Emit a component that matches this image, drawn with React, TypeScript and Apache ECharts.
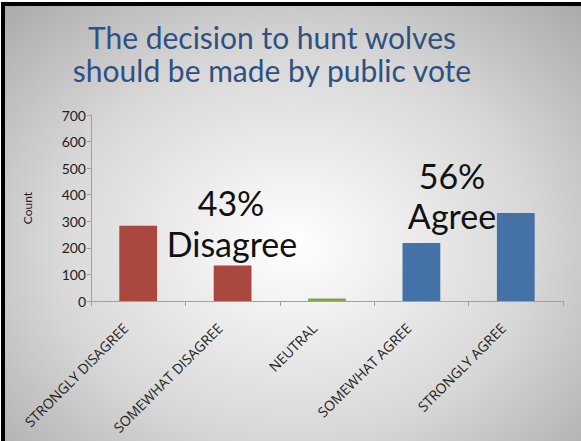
import React, { useEffect, useRef } from "react";
import * as echarts from "echarts";

const titleLines = ["The decision to hunt wolves", "should be made by public vote"];
const categories = ["STRONGLY DISAGREE", "SOMEWHAT DISAGREE", "NEUTRAL", "SOMEWHAT AGREE", "STRONGLY AGREE"];
const counts = [283, 134, 9, 218, 331];
const barColors = ["#A9483F", "#A9483F", "#86A349", "#4472A6", "#4472A6"];
const yTicks = [0, 100, 200, 300, 400, 500, 600, 700];
const annotations = [
  { pct: "43%", label: "Disagree" },
  { pct: "56%", label: "Agree" },
];

const FONT = "Lato, 'Open Sans', sans-serif";

export default function App() {
  const ref = useRef<HTMLDivElement>(null);
  useEffect(() => {
    if (!ref.current) return;
    const chart = echarts.init(ref.current, undefined, { renderer: "svg" });
    const annStyle = { fontFamily: FONT, fontSize: 34, fill: "#111", align: "center", verticalAlign: "middle" };
    chart.setOption({
      animation: false,
      backgroundColor: "transparent",
      title: {
        text: titleLines.join("\n"),
        left: 267,
        top: 15,
        textAlign: "center",
        textStyle: {
          fontFamily: FONT,
          fontSize: 30,
          fontWeight: "normal",
          color: "#2F5082",
          lineHeight: 33,
        },
      },
      grid: { left: 91, right: 18, top: 115, bottom: 140, containLabel: false },
      xAxis: {
        type: "category",
        data: categories,
        axisLine: { lineStyle: { color: "#A0A0A0", width: 1 } },
        axisTick: { show: true, length: 5, lineStyle: { color: "#A0A0A0" } },
        axisLabel: {
          rotate: 45,
          interval: 0,
          margin: 12,
          padding: [0, 18, 0, 0],
          fontFamily: "'Open Sans', sans-serif",
          fontSize: 14,
          color: "#222",
        },
      },
      yAxis: {
        type: "value",
        min: yTicks[0],
        max: yTicks[yTicks.length - 1],
        interval: 100,
        name: "Count",
        nameLocation: "middle",
        nameGap: 58,
        nameRotate: 90,
        nameTextStyle: { fontFamily: FONT, fontSize: 12, color: "#222" },
        axisLine: { show: true, lineStyle: { color: "#A0A0A0" } },
        axisTick: { show: true, length: 4, lineStyle: { color: "#A0A0A0" } },
        axisLabel: { fontFamily: FONT, fontSize: 14, color: "#222", margin: 5 },
        splitLine: { show: false },
      },
      series: [
        {
          type: "bar",
          barWidth: "40%",
          data: counts.map((v, i) => ({ value: v, itemStyle: { color: barColors[i] } })),
        },
      ],
      graphic: [
        { type: "text", x: 231, y: 202, style: { ...annStyle, text: annotations[0].pct } },
        { type: "text", x: 232, y: 243, style: { ...annStyle, text: annotations[0].label } },
        { type: "text", x: 452, y: 175, style: { ...annStyle, text: annotations[1].pct } },
        { type: "text", x: 452, y: 215, style: { ...annStyle, text: annotations[1].label } },
      ],
    });
    return () => chart.dispose();
  }, []);

  return (
    <div style={{ position: "fixed", left: 0, top: 0, width: 581, height: 441, background: "#fff", overflow: "hidden" }}>
      <div
        style={{
          position: "absolute",
          left: 1,
          top: 2,
          width: 580,
          height: 439,
          boxSizing: "border-box",
          borderLeft: "4px solid #000",
          borderTop: "4px solid #000",
          background: "radial-gradient(ellipse 75% 80% at 50% 55%, #ffffff 0%, #d8d8d8 55%, #a6a6a6 100%)",
        }}
      />
      <div ref={ref} style={{ position: "absolute", left: 0, top: 0, width: 581, height: 441 }} />
    </div>
  );
}
